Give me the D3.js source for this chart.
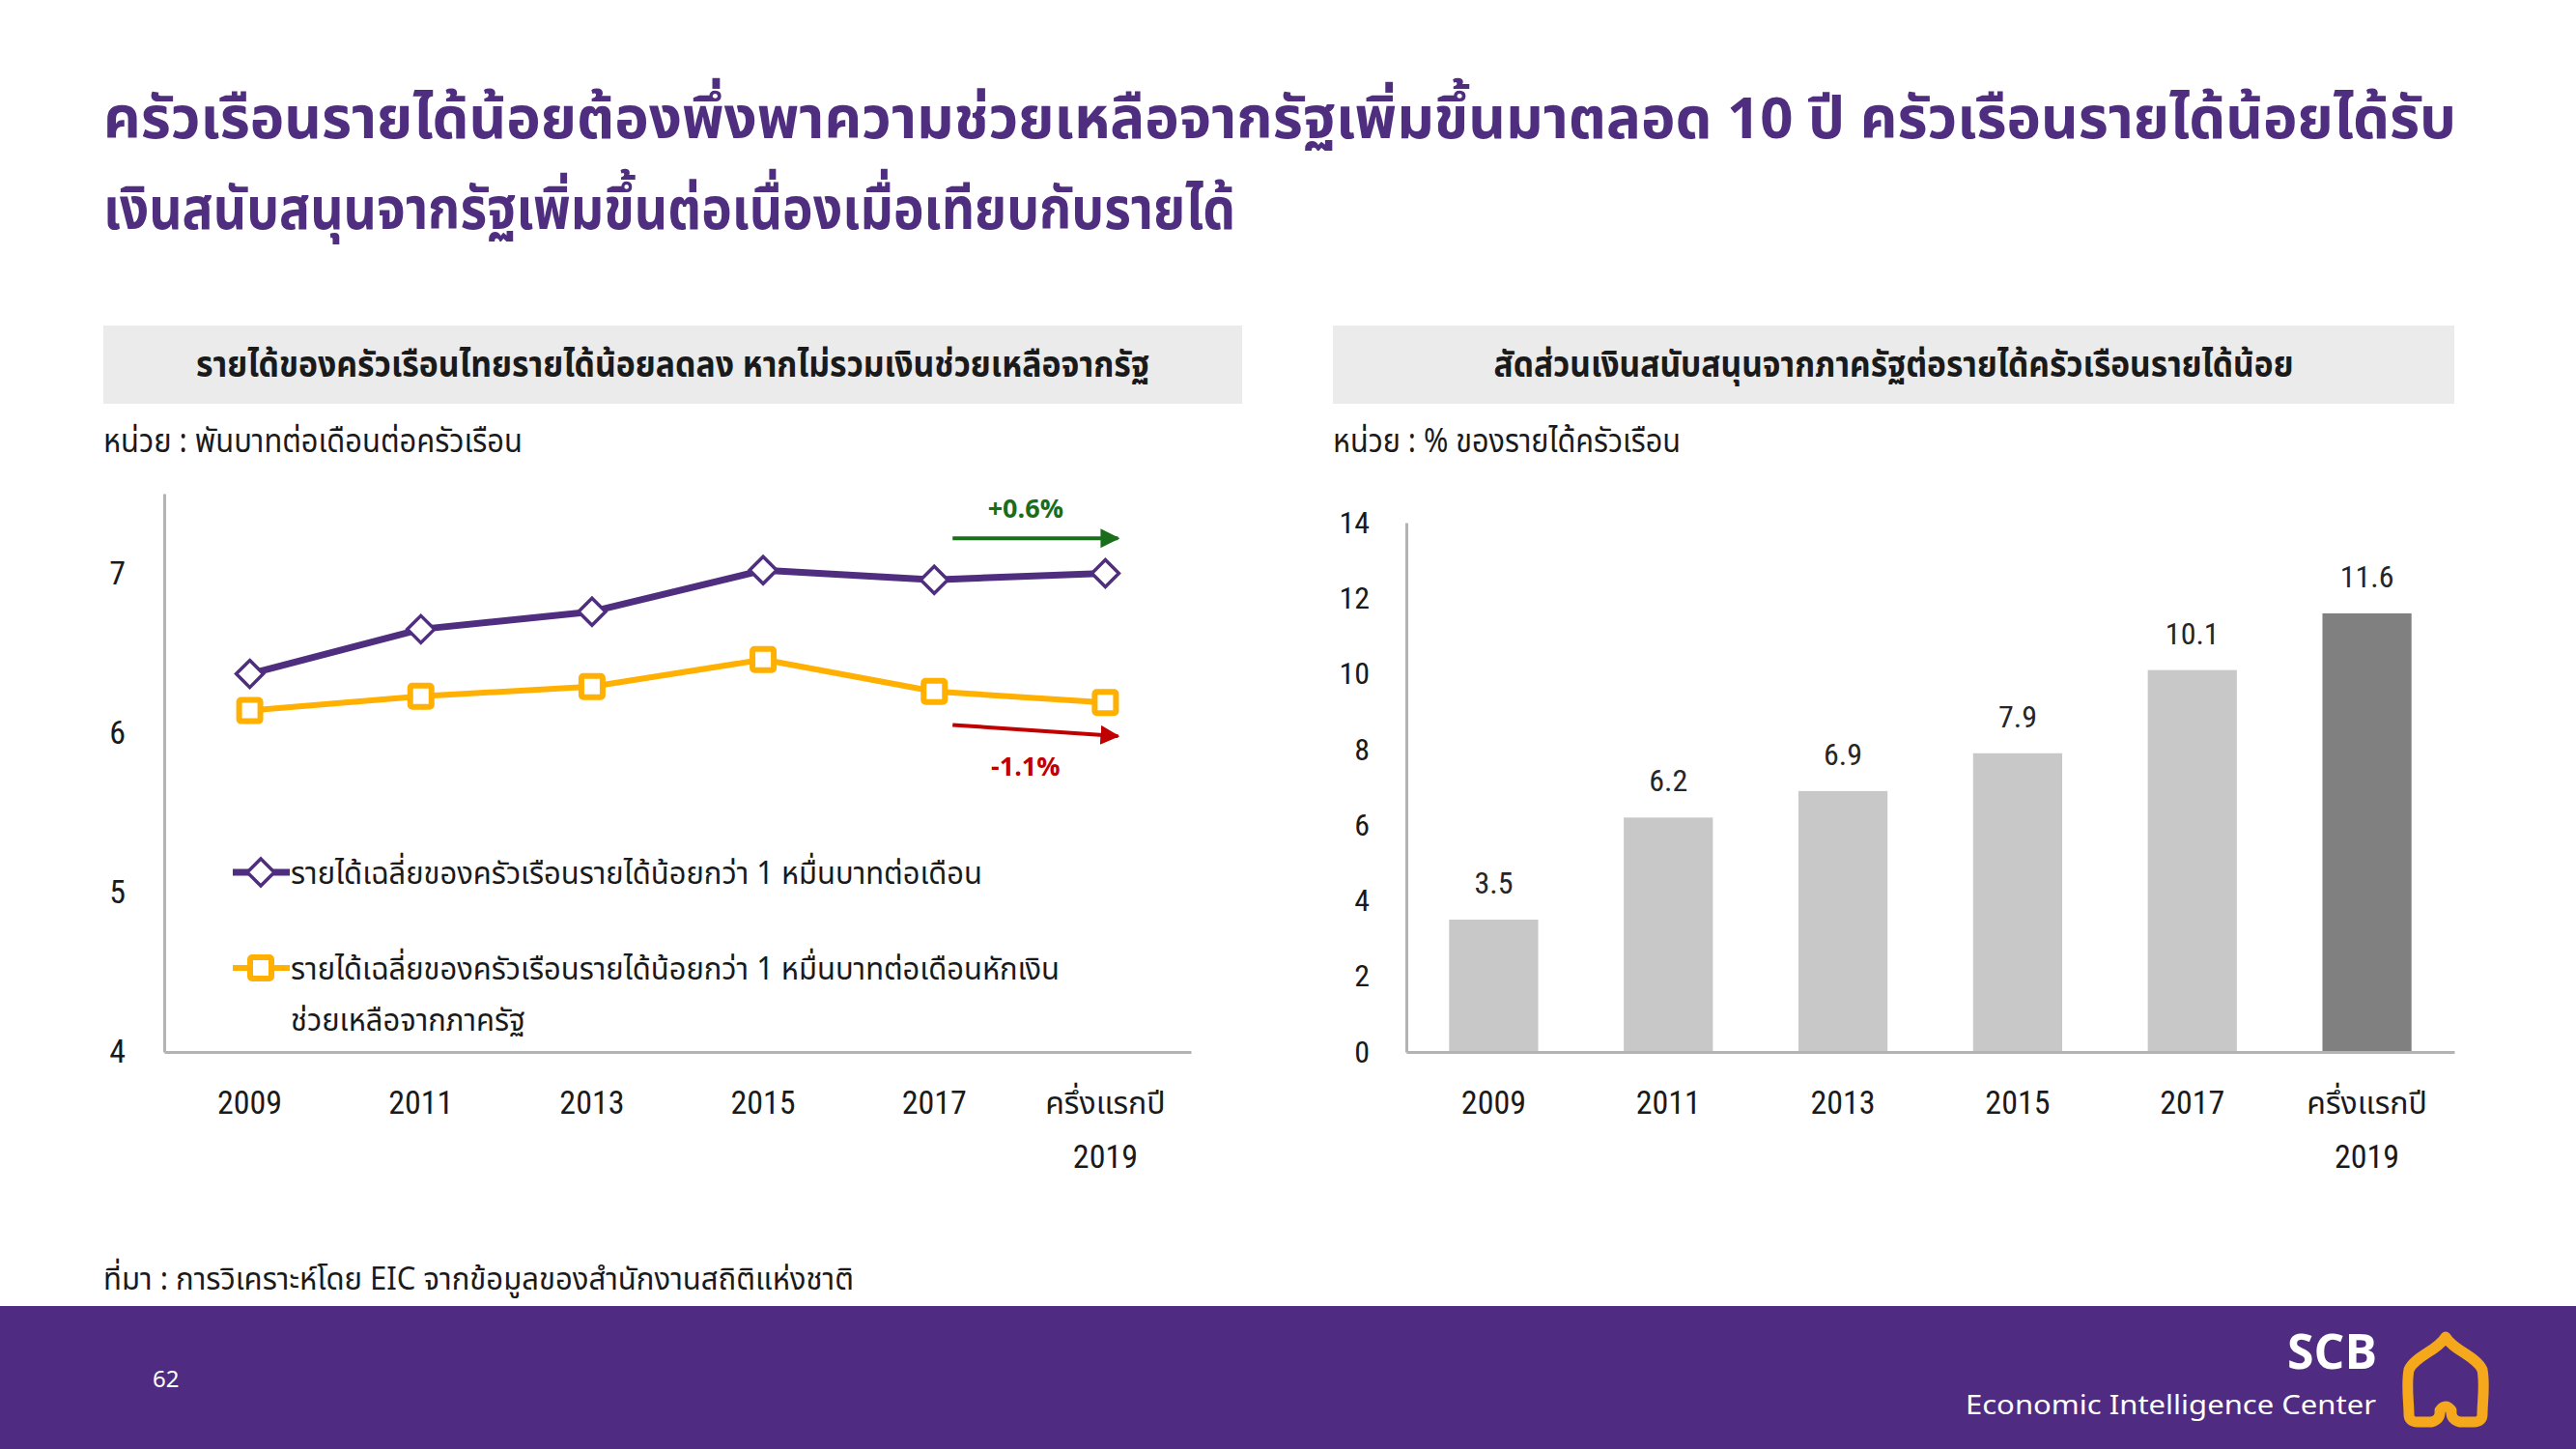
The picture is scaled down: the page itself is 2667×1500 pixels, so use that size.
<!DOCTYPE html>
<html>
<head>
<meta charset="utf-8">
<script src="https://cdn.jsdelivr.net/npm/d3@7"></script>
<style>
body { margin: 0; background: #fff; }
svg { display: block; }
text { font-family: "Noto Sans Thai", "Noto Sans", sans-serif; fill: #1a1a1a; }
.num { font-family: "Liberation Sans Narrow", "Roboto Condensed", "Noto Sans", sans-serif; }
</style>
</head>
<body>
<svg></svg>
<script>
// data
const years = ["2009", "2011", "2013", "2015", "2017", "ครึ่งแรกปี\n2019"]
const incomeAll = [6.37, 6.65, 6.76, 7.02, 6.96, 7.00]
const incomeNoAid = [6.14, 6.23, 6.29, 6.46, 6.26, 6.19]
const incomeTicks = [4, 5, 6, 7]
const aidShare = [3.5, 6.2, 6.9, 7.9, 10.1, 11.6]
const shareTicks = [0, 2, 4, 6, 8, 10, 12, 14]
const changeLabels = ["+0.6%", "-1.1%"]
const changeFrom = [7.22, 6.05]
const changeTo = [7.22, 5.98]
const changeLabelAt = [7.41, 5.79]

const titleLines = [
	"ครัวเรือนรายได้น้อยต้องพึ่งพาความช่วยเหลือจากรัฐเพิ่มขึ้นมาตลอด 10 ปี ครัวเรือนรายได้น้อยได้รับ",
	"เงินสนับสนุนจากรัฐเพิ่มขึ้นต่อเนื่องเมื่อเทียบกับรายได้"
]
const legendLines = [
	"รายได้เฉลี่ยของครัวเรือนรายได้น้อยกว่า 1 หมื่นบาทต่อเดือน",
	"รายได้เฉลี่ยของครัวเรือนรายได้น้อยกว่า 1 หมื่นบาทต่อเดือนหักเงิน",
	"ช่วยเหลือจากภาครัฐ"
]

const purple = "#4f2d7f"
const orange = "#ffb000"
const axisGray = "#b3b3b3"

const svg = d3.select("svg")
	.attr("width", 2667)
	.attr("height", 1500)
	.attr("viewBox", "0 0 2667 1500")

// squeeze a text into the width it has in the picture
const fit = function (sel, w) {
	sel.attr("textLength", w).attr("lengthAdjust", "spacingAndGlyphs")
}

// title
titleLines.forEach((t, i) => {
	svg.append("text")
		.attr("x", 107)
		.attr("y", 143 + i * 94)
		.attr("font-size", 60)
		.attr("font-weight", "bold")
		.style("fill", purple)
		.text(t)
		.call(fit, i == 0 ? 2436 : 1172)
})

// panel headers
const headers = [
	{x: 107, w: 1179, text: "รายได้ของครัวเรือนไทยรายได้น้อยลดลง หากไม่รวมเงินช่วยเหลือจากรัฐ", tw: 987},
	{x: 1380, w: 1161, text: "สัดส่วนเงินสนับสนุนจากภาครัฐต่อรายได้ครัวเรือนรายได้น้อย", tw: 828}
]
headers.forEach(h => {
	svg.append("rect")
		.attr("x", h.x).attr("y", 337)
		.attr("width", h.w).attr("height", 81)
		.attr("fill", "#ebebeb")
	svg.append("text")
		.attr("x", h.x + h.w / 2)
		.attr("y", 390)
		.attr("text-anchor", "middle")
		.attr("font-size", 38)
		.attr("font-weight", "bold")
		.text(h.text)
		.call(fit, h.tw)
})

svg.append("text").attr("x", 107).attr("y", 468).attr("font-size", 34)
	.text("หน่วย : พันบาทต่อเดือนต่อครัวเรือน").call(fit, 434)
svg.append("text").attr("x", 1380).attr("y", 468).attr("font-size", 34)
	.text("หน่วย : % ของรายได้ครัวเรือน").call(fit, 360)

// x labels with a second line
const twoLineLabels = function (g) {
	g.selectAll(".tick text").each(function (d) {
		const parts = d.split("\n")
		const t = d3.select(this).text(null).attr("y", 0).attr("dy", null)
		parts.forEach((p, i) => {
			t.append("tspan")
				.attr("x", 0)
				.attr("y", 64 + i * 56)
				.attr("class", /^\d+$/.test(p) ? "num" : null)
				.attr("font-size", /^\d+$/.test(p) ? 34 : 32)
				.text(p)
		})
	})
}

const styleAxis = function (g) {
	g.select(".domain").attr("stroke", axisGray).attr("stroke-width", 3)
	g.selectAll(".tick line").remove()
	g.selectAll(".tick text").attr("fill", "#1a1a1a")
}

// ---------- left: line chart ----------
const xL = d3.scaleBand().domain(years).range([170, 1233])
const yL = d3.scaleLinear().domain([4, 7.5]).range([1089, 511])
const cx = d => xL(d) + xL.bandwidth() / 2

svg.append("g")
	.attr("transform", "translate(170,0)")
	.call(d3.axisLeft(yL).tickValues(incomeTicks).tickFormat(d3.format("d")).tickSize(0).tickPadding(40))
	.call(styleAxis)
	.call(g => g.selectAll(".tick text").attr("class", "num").attr("font-size", 34))

svg.append("g")
	.attr("transform", "translate(0,1089)")
	.call(d3.axisBottom(xL).tickSize(0))
	.call(styleAxis)
	.call(twoLineLabels)

const line = d3.line()
	.x((d, i) => cx(years[i]))
	.y(d => yL(d))

svg.append("path")
	.attr("d", line(incomeNoAid))
	.attr("fill", "none")
	.attr("stroke", orange)
	.attr("stroke-width", 6)
	.attr("stroke-linejoin", "round")

svg.append("path")
	.attr("d", line(incomeAll))
	.attr("fill", "none")
	.attr("stroke", purple)
	.attr("stroke-width", 7)
	.attr("stroke-linejoin", "round")

const diamond = d3.symbol(d3.symbolDiamond2, 500)

svg.append("g").selectAll("path")
	.data(incomeAll)
	.enter()
	.append("path")
	.attr("transform", (d, i) => `translate(${cx(years[i])},${yL(d)})`)
	.attr("d", diamond)
	.attr("fill", "#fff")
	.attr("stroke", purple)
	.attr("stroke-width", 3.5)

svg.append("g").selectAll("rect")
	.data(incomeNoAid)
	.enter()
	.append("rect")
	.attr("x", (d, i) => cx(years[i]) - 11)
	.attr("y", d => yL(d) - 11)
	.attr("width", 22).attr("height", 22)
	.attr("rx", 2)
	.attr("fill", "#fff")
	.attr("stroke", orange)
	.attr("stroke-width", 6)

// change arrows, 2017 -> 2019
const changeColors = ["#1a6e1a", "#c00000"]
const defs = svg.append("defs")
changeColors.forEach((c, i) => {
	defs.append("marker")
		.attr("id", "arrow" + i)
		.attr("viewBox", "0 0 10 10")
		.attr("refX", 9).attr("refY", 5)
		.attr("markerWidth", 5).attr("markerHeight", 5)
		.attr("markerUnits", "strokeWidth")
		.attr("orient", "auto")
		.append("path")
		.attr("d", "M0,0 L10,5 L0,10 Z")
		.attr("fill", c)
})

const x17 = cx(years[4])
const x19 = cx(years[5])
changeLabels.forEach((lab, i) => {
	svg.append("line")
		.attr("x1", x17 + 19).attr("y1", yL(changeFrom[i]))
		.attr("x2", x19 + 13).attr("y2", yL(changeTo[i]))
		.attr("stroke", changeColors[i])
		.attr("stroke-width", 4)
		.attr("marker-end", `url(#arrow${i})`)
	svg.append("text")
		.attr("x", (x17 + x19) / 2 + 6)
		.attr("y", yL(changeLabelAt[i]) + 10)
		.attr("text-anchor", "middle")
		.attr("font-size", 27)
		.attr("font-weight", "bold")
		.style("fill", changeColors[i])
		.text(lab)
})

// legend inside the plot
const legendKeys = [
	{y: 903, color: purple, lines: [legendLines[0]], widths: [716]},
	{y: 1002, color: orange, lines: [legendLines[1], legendLines[2]], widths: [796, 243]}
]
legendKeys.forEach((k, j) => {
	svg.append("line")
		.attr("x1", 241).attr("x2", 300)
		.attr("y1", k.y).attr("y2", k.y)
		.attr("stroke", k.color)
		.attr("stroke-width", j == 0 ? 7 : 6)
	if (j == 0) {
		svg.append("path")
			.attr("transform", `translate(270,${k.y})`)
			.attr("d", diamond)
			.attr("fill", "#fff").attr("stroke", purple).attr("stroke-width", 3.5)
	} else {
		svg.append("rect")
			.attr("x", 259).attr("y", k.y - 11)
			.attr("width", 22).attr("height", 22).attr("rx", 2)
			.attr("fill", "#fff").attr("stroke", orange).attr("stroke-width", 6)
	}
	k.lines.forEach((t, i) => {
		svg.append("text")
			.attr("x", 301)
			.attr("y", k.y + 12 + i * 53)
			.attr("font-size", 32)
			.text(t)
			.call(fit, k.widths[i])
	})
})

// ---------- right: bar chart ----------
const xR = d3.scaleBand().domain(years).range([1456, 2541]).paddingInner(0.49).paddingOuter(0.245)
const yR = d3.scaleLinear().domain([0, 14]).range([1089, 541])

svg.append("g")
	.attr("transform", "translate(1456,0)")
	.call(d3.axisLeft(yR).tickValues(shareTicks).tickSize(0).tickPadding(38))
	.call(styleAxis)
	.call(g => g.selectAll(".tick text").attr("class", "num").attr("font-size", 32))

svg.append("g").selectAll("rect")
	.data(aidShare)
	.enter()
	.append("rect")
	.attr("x", (d, i) => xR(years[i]))
	.attr("y", d => yR(d))
	.attr("width", xR.bandwidth())
	.attr("height", d => yR(0) - yR(d))
	.attr("fill", (d, i) => i == aidShare.length - 1 ? "#808080" : "#c8c8c8")

svg.append("g").selectAll("text")
	.data(aidShare)
	.enter()
	.append("text")
	.attr("class", "num")
	.attr("x", (d, i) => xR(years[i]) + xR.bandwidth() / 2)
	.attr("y", d => yR(d) - 27)
	.attr("text-anchor", "middle")
	.attr("font-size", 32)
	.style("fill", "#262626")
	.text(d => d.toFixed(1))

svg.append("g")
	.attr("transform", "translate(0,1089)")
	.call(d3.axisBottom(xR).tickSize(0))
	.call(styleAxis)
	.call(twoLineLabels)

// source
svg.append("text").attr("x", 107).attr("y", 1335).attr("font-size", 32)
	.text("ที่มา : การวิเคราะห์โดย EIC จากข้อมูลของสำนักงานสถิติแห่งชาติ").call(fit, 777)

// footer band
svg.append("rect")
	.attr("x", 0).attr("y", 1352)
	.attr("width", 2667).attr("height", 148)
	.attr("fill", "#4f2b81")

svg.append("text").attr("x", 158).attr("y", 1436).attr("font-size", 24)
	.style("fill", "#fff").text("62")

svg.append("text").attr("x", 2461).attr("y", 1417)
	.attr("text-anchor", "end")
	.attr("font-family", "Open Sans").attr("font-weight", "bold").attr("font-size", 50)
	.style("fill", "#fff").text("SCB")
svg.append("text").attr("x", 2460).attr("y", 1464)
	.attr("text-anchor", "end")
	.attr("font-family", "Open Sans").attr("font-size", 28)
	.style("fill", "#fff").text("Economic Intelligence Center")
	.call(fit, 425)

// the gold bell mark
svg.append("path")
	.attr("d", "M2532,1384 C2524,1398 2500,1404 2494,1418 C2491,1434 2494,1452 2494,1464 Q2494,1472 2503,1472 L2517,1472 Q2527,1470 2526,1460 Q2532,1452 2538,1460 Q2537,1470 2547,1472 L2561,1472 Q2570,1472 2570,1464 C2570,1452 2573,1434 2570,1418 C2564,1404 2540,1398 2532,1384 Z")
	.attr("fill", "none")
	.attr("stroke", "#f5a81c")
	.attr("stroke-width", 11)
	.attr("stroke-linejoin", "round")
</script>
</body>
</html>
